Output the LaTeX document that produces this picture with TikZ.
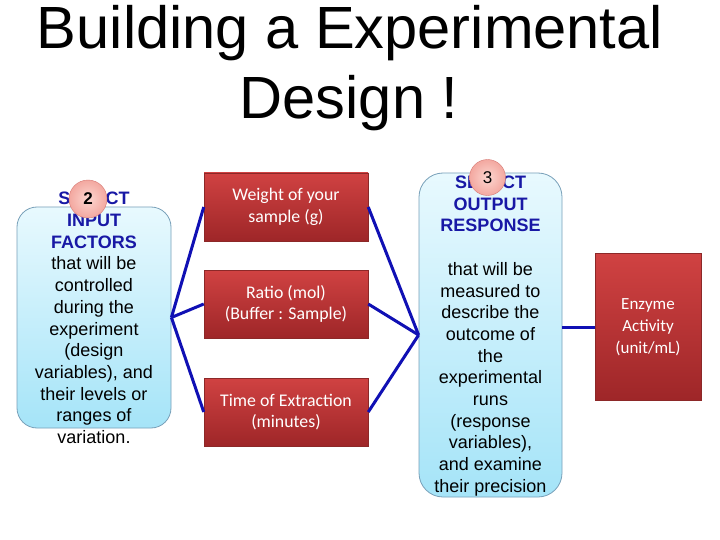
\documentclass[tikz,border=0pt]{standalone}
\usepackage{fontspec}
\setmainfont{Liberation Sans}
\newfontfamily\calibrifont{Carlito}
\definecolor{linkblue}{RGB}{16,16,180}
\definecolor{headblue}{RGB}{24,24,165}
\definecolor{boxtop}{RGB}{232,249,254}
\definecolor{boxbottom}{RGB}{165,228,248}
\definecolor{boxedge}{RGB}{120,160,185}
\definecolor{redtop}{RGB}{208,66,66}
\definecolor{redbottom}{RGB}{158,38,40}
\definecolor{rededge}{RGB}{140,40,40}
\definecolor{badgein}{RGB}{252,214,208}
\definecolor{badgeout}{RGB}{243,168,160}
\definecolor{badgeedge}{RGB}{215,120,115}
\newcommand{\headline}[1]{\textcolor{headblue}{\textbf{#1}}}
\tikzset{
  stagebox/.style={draw=boxedge, line width=0.8pt, top color=boxtop, bottom color=boxbottom},
  factorbox/.style={rectangle, draw=rededge, line width=0.5pt, top color=redtop, bottom color=redbottom,
    text=white, font=\calibrifont\fontsize{17.8}{21.5}\selectfont, align=center, inner sep=0pt},
  badge/.style={circle, draw=badgeedge, inner color=badgein, outer color=badgeout,
    minimum size=38pt, inner sep=0pt, font=\fontsize{17}{17}\selectfont},
  link/.style={draw=linkblue, line width=3pt},
  bodytext/.style={align=center, font=\fontsize{18}{21.7}\selectfont, inner sep=0pt},
  titletext/.style={anchor=base, font=\fontsize{59.6}{70}\selectfont}
}
\begin{document}
\begin{tikzpicture}[x=1pt,y=-1pt]
    \useasboundingbox[fill=white] (0,0) rectangle (720,540);
    % title
    \node[titletext] (title1) at (350,49) {Building a Experimental};
    \node[titletext] (title2) at (349,119) {Design !};
    % input stage
    \node[stagebox, rounded corners=20pt, minimum width=154pt, minimum height=221pt] (inbox) at (94,317.5) {};
    \node[bodytext] (intext) at (94,318) {\headline{SELECT}\\\headline{INPUT}\\\headline{FACTORS}\\that will be\\controlled\\during the\\experiment\\(design\\variables), and\\their levels or\\ranges of\\variation.};
    \node[badge, font=\bfseries\fontsize{17}{17}\selectfont] (num2) at (88,199) {2};
    % factors
    \node[factorbox, minimum width=164pt, minimum height=68pt] (weight) at (286,207) {Weight of your\\sample (g)};
    \node[factorbox, minimum width=164pt, minimum height=68pt] (ratio) at (286,304) {Ratio (mol)\\(Buffer : Sample)};
    \node[factorbox, minimum width=164pt, minimum height=68pt] (time) at (286,412) {Time of Extraction\\(minutes)};
    % output stage
    \node[stagebox, rounded corners=24pt, minimum width=143pt, minimum height=324pt] (outbox) at (490.5,335) {};
    \node[bodytext] (outtext) at (490.5,336) {\headline{SELECT}\\\headline{OUTPUT}\\\headline{RESPONSE}\\[21.7pt]that will be\\measured to\\describe the\\outcome of\\the\\experimental\\runs\\(response\\variables),\\and examine\\their precision};
    \node[badge, minimum size=36pt] (num3) at (487.5,177.5) {3};
    \node[factorbox, minimum width=106pt, minimum height=147pt, font=\calibrifont\fontsize{17}{22}\selectfont] (enzyme) at (648,327) {Enzyme\\Activity\\(unit/mL)};
    % links
    \foreach \f in {weight,ratio,time} {
        \draw[link] (inbox.east) -- (\f.west);
        \draw[link] (\f.east) -- (outbox.west);
    }
    \draw[link] (outbox.east |- enzyme.west) -- (enzyme.west);
\end{tikzpicture}
\end{document}
